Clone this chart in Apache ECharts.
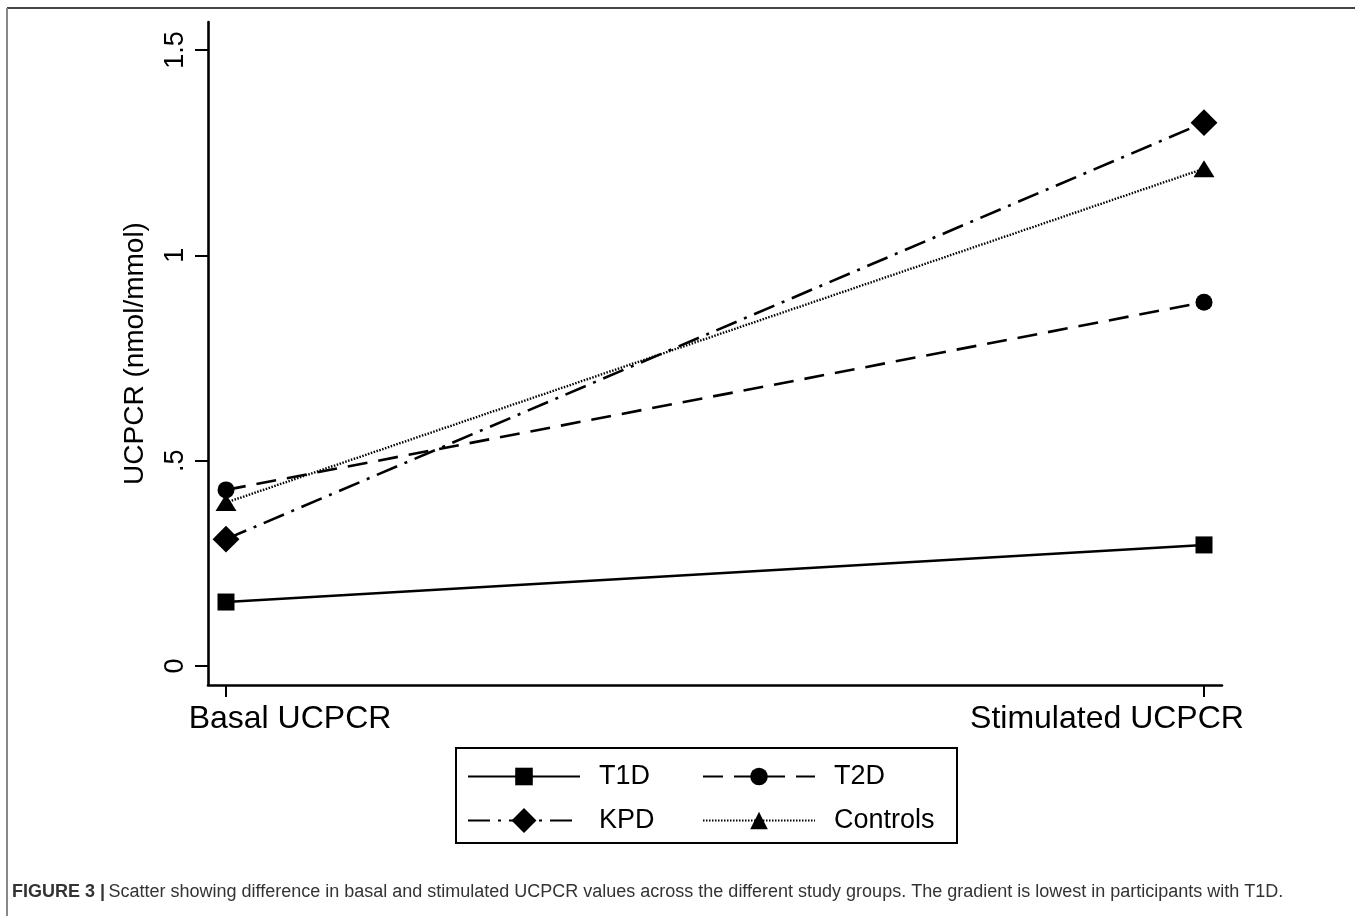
<!DOCTYPE html>
<html>
<head>
<meta charset="utf-8">
<script src="https://cdn.jsdelivr.net/npm/echarts@6/dist/echarts.min.js"></script>
<style>
  html, body { margin: 0; padding: 0; background: #fff; }
  #chart { width: 1355px; height: 916px; }
</style>
</head>
<body>
<div id="chart"></div>
<script>
// Measurement occasions (x positions 0 and 1)
const categories = ['Basal UCPCR', 'Stimulated UCPCR'];
// Mean UCPCR (nmol/mmol) per study group
const t1d = [0.156, 0.295];
const t2d = [0.429, 0.886];
const kpd = [0.309, 1.323];
const controls = [0.398, 1.211];
// Y axis tick values and labels
const yTicks = [0, 0.5, 1, 1.5];
const yTickLabels = ['0', '.5', '1', '1.5'];
// Legend columns
const legendLeftCol = ['T1D', 'KPD'];
const legendRightCol = ['T2D', 'Controls'];

const captionBold = 'FIGURE 3 |';
const captionText = 'Scatter showing difference in basal and stimulated UCPCR values across the different study groups. The gradient is lowest in participants with T1D.';

const FONT = '"Liberation Sans", Arial, Helvetica, sans-serif';
const CAP_FONT_SIZE = 18;
const CAP_WIDTH = 1283;

function pairs(vals) {
  return vals.map((v, i) => [i, v]);
}

// The caption is set in a condensed face: squeeze the regular sans to the column width
function captionScale() {
  const ctx = document.createElement('canvas').getContext('2d');
  ctx.font = 'bold ' + CAP_FONT_SIZE + 'px ' + FONT;
  let w = ctx.measureText(captionBold + ' ').width;
  ctx.font = CAP_FONT_SIZE + 'px ' + FONT;
  w += ctx.measureText(captionText).width;
  return Math.min(1, CAP_WIDTH / w);
}

function legendColumn(left, names) {
  return {
    left: left,
    top: 763,
    orient: 'vertical',
    itemWidth: 112,
    itemHeight: 22,
    itemGap: 17,
    padding: 0,
    textStyle: {
      fontFamily: FONT,
      fontSize: 27,
      color: '#000',
      padding: [0, 0, 0, 14]
    },
    data: names
  };
}

const chart = echarts.init(document.getElementById('chart'), null, { renderer: 'canvas' });

const lineW = 2.6;

const option = {
  backgroundColor: '#ffffff',
  animation: false,
  graphic: [
    { type: 'line', shape: { x1: 7, y1: 8, x2: 1355, y2: 8 }, style: { stroke: '#444', lineWidth: 2 } },
    { type: 'line', shape: { x1: 7, y1: 8, x2: 7, y2: 916 }, style: { stroke: '#888', lineWidth: 2 } },
    // legend frame
    { type: 'rect', shape: { x: 456, y: 748, width: 501, height: 95 }, style: { fill: 'none', stroke: '#000', lineWidth: 2 } },
    {
      type: 'text',
      x: 12,
      y: 892,
      scaleX: captionScale(),
      style: {
        text: '{b|' + captionBold + '} {r|' + captionText + '}',
        verticalAlign: 'middle',
        rich: {
          b: { fontFamily: FONT, fontWeight: 'bold', fontSize: CAP_FONT_SIZE, fill: '#333' },
          r: { fontFamily: FONT, fontWeight: 'normal', fontSize: CAP_FONT_SIZE, fill: '#333' }
        }
      }
    }
  ],
  legend: [
    legendColumn(467, legendLeftCol),
    legendColumn(702, legendRightCol)
  ],
  grid: {
    left: 208,
    right: 133,
    top: 22,
    bottom: 231,
    containLabel: false
  },
  xAxis: {
    type: 'value',
    min: -0.0184,
    max: 1.0184,
    axisLine: { show: true, onZero: false, lineStyle: { color: '#000', width: 2.6 } },
    axisTick: { show: true, customValues: [0, 1], length: 12, lineStyle: { color: '#000', width: 2 } },
    splitLine: { show: false },
    axisLabel: {
      customValues: [0, 1],
      margin: 18,
      color: '#000',
      fontFamily: FONT,
      fontSize: 32,
      formatter: function (v) {
        const i = Math.round(v);
        return i === 0 ? '{l|' + categories[0] + '}' : '{s|' + categories[1] + '}';
      },
      rich: {
        l: { fontFamily: FONT, fontSize: 32, color: '#000', padding: [0, 0, 0, 128] },
        s: { fontFamily: FONT, fontSize: 32, color: '#000', padding: [0, 194, 0, 0] }
      }
    }
  },
  yAxis: {
    type: 'value',
    min: -0.046,
    max: 1.568,
    name: 'UCPCR (nmol/mmol)',
    nameLocation: 'middle',
    nameGap: 59,
    nameRotate: 90,
    nameTextStyle: { fontFamily: FONT, fontSize: 28, color: '#000' },
    axisLine: { show: true, onZero: false, lineStyle: { color: '#000', width: 2.6 } },
    axisTick: { show: true, customValues: yTicks, length: 13, lineStyle: { color: '#000', width: 2 } },
    splitLine: { show: false },
    axisLabel: {
      customValues: yTicks,
      rotate: 90,
      margin: 19,
      color: '#000',
      fontFamily: FONT,
      fontSize: 27,
      formatter: function (v) {
        const idx = yTicks.findIndex(t => Math.abs(t - v) < 1e-6);
        return idx >= 0 ? yTickLabels[idx] : '';
      }
    }
  },
  series: [
    {
      name: 'T1D', type: 'line', data: pairs(t1d),
      symbol: 'rect', symbolSize: 17,
      itemStyle: { color: '#000' },
      lineStyle: { color: '#000', width: lineW, type: 'solid' }
    },
    {
      name: 'T2D', type: 'line', data: pairs(t2d),
      symbol: 'circle', symbolSize: 17,
      itemStyle: { color: '#000' },
      lineStyle: { color: '#000', width: lineW, type: [20, 11] }
    },
    {
      name: 'KPD', type: 'line', data: pairs(kpd),
      symbol: 'rect', symbolRotate: 45, symbolSize: 19,
      itemStyle: { color: '#000' },
      lineStyle: { color: '#000', width: lineW, type: [22, 8, 3, 8] }
    },
    {
      name: 'Controls', type: 'line', data: pairs(controls),
      symbol: 'triangle', symbolSize: [21, 17],
      itemStyle: { color: '#000' },
      lineStyle: { color: '#000', width: 2.4, type: [1.5, 1.5] }
    }
  ]
};

chart.setOption(option);
</script>
</body>
</html>
